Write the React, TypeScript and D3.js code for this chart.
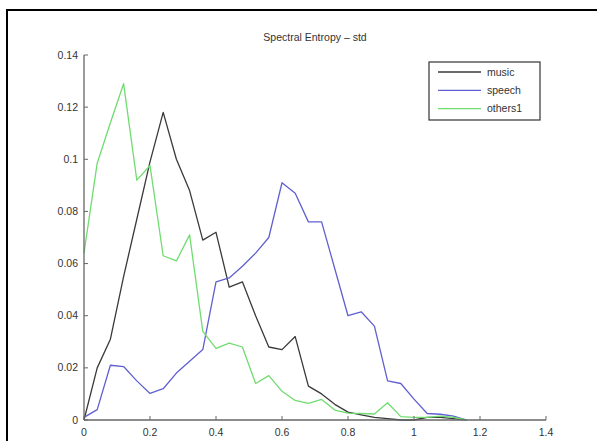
import React from "react";
import * as d3 from "d3";

const xValues = [0, 0.04, 0.08, 0.12, 0.16, 0.2, 0.24, 0.28, 0.32, 0.36, 0.4, 0.44, 0.48, 0.52, 0.56, 0.6, 0.64, 0.68, 0.72, 0.76, 0.8, 0.84, 0.88, 0.92, 0.96, 1.0, 1.04, 1.08, 1.12, 1.16];
const music = [0, 0.02, 0.031, 0.055, 0.077, 0.099, 0.118, 0.1, 0.088, 0.069, 0.072, 0.051, 0.053, 0.04, 0.028, 0.027, 0.032, 0.013, 0.01, 0.006, 0.003, 0.002, 0.001, 0.0005, 0, 0, 0.001, 0.001, 0.0005, 0];
const speech = [0.001, 0.004, 0.021, 0.0205, 0.015, 0.0102, 0.012, 0.018, 0.0225, 0.027, 0.053, 0.0545, 0.059, 0.064, 0.07, 0.091, 0.087, 0.076, 0.076, 0.058, 0.04, 0.0415, 0.036, 0.015, 0.014, 0.008, 0.0025, 0.0022, 0.0015, 0];
const others1 = [0.064, 0.0985, 0.114, 0.129, 0.092, 0.0976, 0.063, 0.061, 0.071, 0.034, 0.0275, 0.0295, 0.028, 0.014, 0.017, 0.011, 0.0075, 0.0064, 0.0079, 0.0038, 0.0026, 0.0025, 0.0023, 0.0066, 0.0013, 0.001, 0.001, 0.0015, 0.001, 0];
const seriesNames = ["music", "speech", "others1"];
const xTicks = [0, 0.2, 0.4, 0.6, 0.8, 1, 1.2, 1.4];
const yTicks = [0, 0.02, 0.04, 0.06, 0.08, 0.1, 0.12, 0.14];
const title = "Spectral Entropy \u2013 std";

export default function App() {
  const W = 597, H = 441;
  const x = d3.scaleLinear().domain([0, 1.4]).range([84, 546]);
  const y = d3.scaleLinear().domain([0, 0.14]).range([420, 55]);
  const colors = ["#3a3a3a", "#6060d0", "#70dc70"];
  const data = [music, speech, others1];
  const line = d3.line<number>().x((_, i) => x(xValues[i])).y((d) => y(d));
  const font = "'Liberation Sans', Arial, sans-serif";
  const axisColor = "#666";
  return (
    <svg width={W} height={H} style={{ position: "absolute", left: 0, top: 0, background: "#fff" }} fontFamily={font}>
      <rect x={7} y={10} width={620} height={460} fill="#fff" stroke="#000" strokeWidth={2} />
      <text x={315} y={41} textAnchor="middle" fontSize={10.5} fill="#333">{title}</text>
      {data.map((s, k) => (
        <path key={k} d={line(s) || ""} fill="none" stroke={colors[k]} strokeWidth={1.3} strokeLinejoin="round" />
      ))}
      {/* axes */}
      <line x1={x(0)} x2={x(1.4)} y1={y(0)} y2={y(0)} stroke={axisColor} strokeWidth={1.3} />
      <line x1={x(0)} x2={x(0)} y1={y(0)} y2={y(0.14)} stroke={axisColor} strokeWidth={1.3} />
      {xTicks.map((t) => (
        <g key={"x" + t}>
          <line x1={x(t)} x2={x(t)} y1={y(0)} y2={y(0) - 4} stroke={axisColor} strokeWidth={1} />
          <text x={x(t)} y={y(0) + 16} textAnchor="middle" fontSize={10.5} fill="#333">{d3.format("~g")(t)}</text>
        </g>
      ))}
      {yTicks.map((t) => (
        <g key={"y" + t}>
          <line x1={x(0)} x2={x(0) + 4} y1={y(t)} y2={y(t)} stroke={axisColor} strokeWidth={1} />
          <text x={x(0) - 6} y={y(t) + 3.5} textAnchor="end" fontSize={10.5} fill="#333">{d3.format("~g")(t)}</text>
        </g>
      ))}
      {/* legend */}
      <rect x={429} y={62} width={111} height={58} fill="#fff" stroke="#333" strokeWidth={1.2} />
      {seriesNames.map((n, k) => (
        <g key={n}>
          <line x1={438} x2={481} y1={72 + k * 18.3} y2={72 + k * 18.3} stroke={colors[k]} strokeWidth={1.3} />
          <text x={487} y={72 + k * 18.3 + 3.5} fontSize={10.5} fill="#333">{n}</text>
        </g>
      ))}
    </svg>
  );
}
